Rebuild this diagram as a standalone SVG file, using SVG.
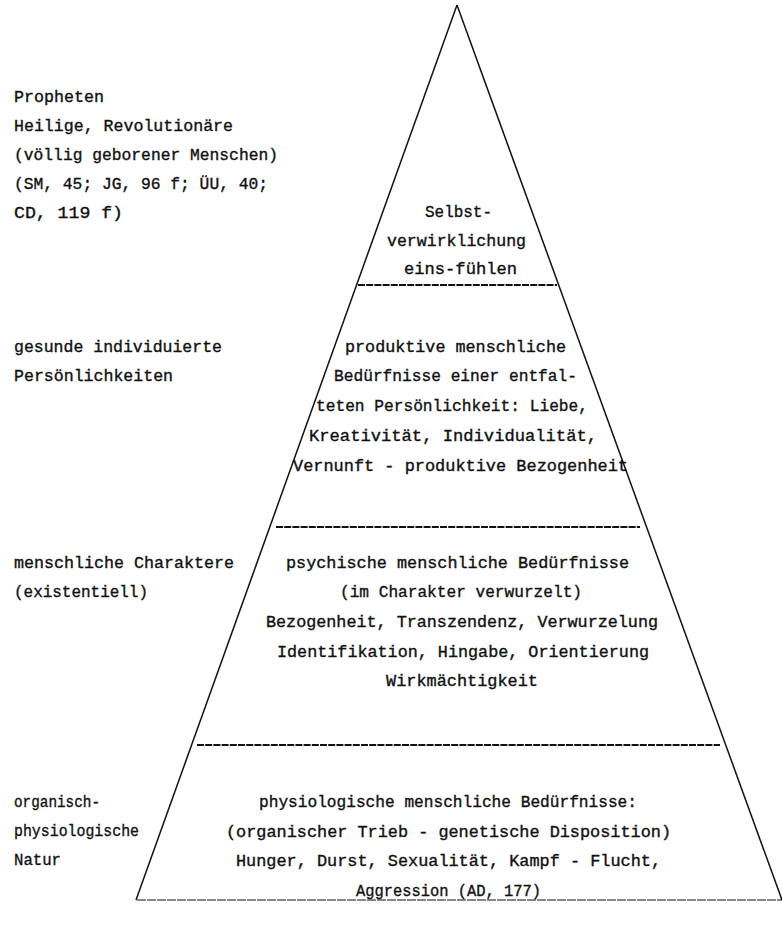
<svg xmlns="http://www.w3.org/2000/svg" width="782" height="929" viewBox="0 0 782 929">
<style>
text{font-family:"Liberation Mono","Courier New",monospace;font-size:16px;fill:#111;stroke:#111;stroke-width:0.35}
.edge{stroke:#111;stroke-width:1.5;fill:none}
.div{stroke:#111;stroke-width:1.8;stroke-dasharray:7 1.2;fill:none}
.base{stroke:#111;stroke-width:1.2;stroke-dasharray:9 1;fill:none}
</style>
<rect width="782" height="929" fill="#fff"/>
<g id="connectors">
<line class="edge" x1="457" y1="5" x2="136" y2="900"/>
<line class="edge" x1="457" y1="5" x2="782" y2="900"/>
<line class="div" x1="358" y1="285" x2="557" y2="285"/>
<line class="div" x1="276" y1="527" x2="640" y2="527"/>
<line class="div" x1="197" y1="745" x2="720" y2="745"/>
<line class="base" x1="137" y1="900" x2="782" y2="900"/>
</g>
<g id="label-top">
<text x="14" y="102" textLength="90" lengthAdjust="spacingAndGlyphs">Propheten</text>
<text x="14" y="131" textLength="219" lengthAdjust="spacingAndGlyphs">Heilige, Revolutionäre</text>
<text x="14" y="160" textLength="264" lengthAdjust="spacingAndGlyphs">(völlig geborener Menschen)</text>
<text x="14" y="189" textLength="254" lengthAdjust="spacingAndGlyphs">(SM, 45; JG, 96 f; ÜU, 40;</text>
<text x="14" y="218" textLength="109" lengthAdjust="spacingAndGlyphs">CD, 119 f)</text>
</g>
<g id="level-top">
<text x="425" y="217" textLength="67" lengthAdjust="spacingAndGlyphs">Selbst-</text>
<text x="387" y="246" textLength="139" lengthAdjust="spacingAndGlyphs">verwirklichung</text>
<text x="404" y="274" textLength="113" lengthAdjust="spacingAndGlyphs">eins-fühlen</text>
</g>
<g id="label-second">
<text x="14" y="352" textLength="208" lengthAdjust="spacingAndGlyphs">gesunde individuierte</text>
<text x="14" y="381" textLength="159" lengthAdjust="spacingAndGlyphs">Persönlichkeiten</text>
</g>
<g id="level-second">
<text x="345" y="352" textLength="221" lengthAdjust="spacingAndGlyphs">produktive menschliche</text>
<text x="334" y="381" textLength="243" lengthAdjust="spacingAndGlyphs">Bedürfnisse einer entfal-</text>
<text x="316" y="411" textLength="272" lengthAdjust="spacingAndGlyphs">teten Persönlichkeit: Liebe,</text>
<text x="309" y="441" textLength="288" lengthAdjust="spacingAndGlyphs">Kreativität, Individualität,</text>
<text x="293" y="471" textLength="335" lengthAdjust="spacingAndGlyphs">Vernunft - produktive Bezogenheit</text>
</g>
<g id="label-third">
<text x="14" y="568" textLength="220" lengthAdjust="spacingAndGlyphs">menschliche Charaktere</text>
<text x="14" y="597" textLength="134" lengthAdjust="spacingAndGlyphs">(existentiell)</text>
</g>
<g id="level-third">
<text x="286" y="568" textLength="343" lengthAdjust="spacingAndGlyphs">psychische menschliche Bedürfnisse</text>
<text x="340" y="597" textLength="242" lengthAdjust="spacingAndGlyphs">(im Charakter verwurzelt)</text>
<text x="266" y="627" textLength="392" lengthAdjust="spacingAndGlyphs">Bezogenheit, Transzendenz, Verwurzelung</text>
<text x="277" y="657" textLength="372" lengthAdjust="spacingAndGlyphs">Identifikation, Hingabe, Orientierung</text>
<text x="386" y="686" textLength="152" lengthAdjust="spacingAndGlyphs">Wirkmächtigkeit</text>
</g>
<g id="label-bottom">
<text x="14" y="807" textLength="86" lengthAdjust="spacingAndGlyphs">organisch-</text>
<text x="14" y="836" textLength="125" lengthAdjust="spacingAndGlyphs">physiologische</text>
<text x="14" y="865" textLength="47" lengthAdjust="spacingAndGlyphs">Natur</text>
</g>
<g id="level-bottom">
<text x="259" y="807" textLength="378" lengthAdjust="spacingAndGlyphs">physiologische menschliche Bedürfnisse:</text>
<text x="226" y="837" textLength="445" lengthAdjust="spacingAndGlyphs">(organischer Trieb - genetische Disposition)</text>
<text x="236" y="866" textLength="425" lengthAdjust="spacingAndGlyphs">Hunger, Durst, Sexualität, Kampf - Flucht,</text>
<text x="356" y="896" textLength="185" lengthAdjust="spacingAndGlyphs">Aggression (AD, 177)</text>
</g>
</svg>
